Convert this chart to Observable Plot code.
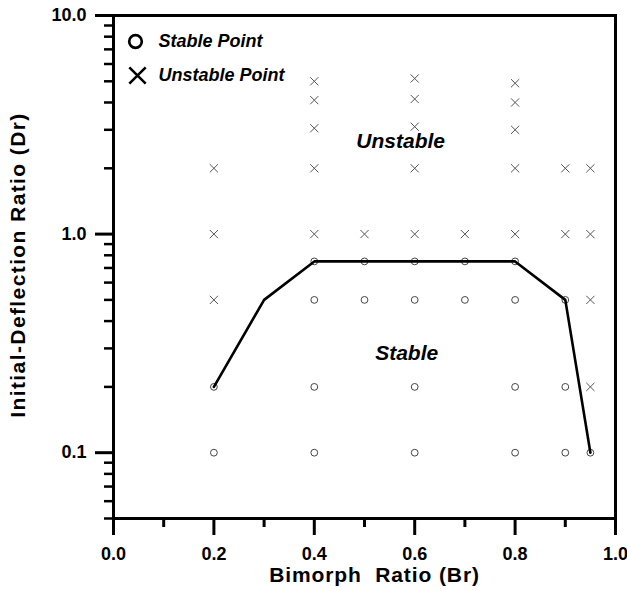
<!DOCTYPE html>
<html>
<head>
<meta charset="utf-8">
<script src="https://cdn.jsdelivr.net/npm/d3@7"></script>
<script src="https://cdn.jsdelivr.net/npm/@observablehq/plot@0.6"></script>
<style>
  html, body { margin: 0; padding: 0; background: #fff; }
  svg text { white-space: pre; }
</style>
</head>
<body>
<div id="chart"></div>
<script>
// Stable points (circles)
const stableBr = [0.2, 0.2, 0.4, 0.4, 0.4, 0.4, 0.5, 0.5, 0.6, 0.6, 0.6, 0.6, 0.7, 0.7, 0.8, 0.8, 0.8, 0.8, 0.9, 0.9, 0.9, 0.95];
const stableDr = [0.1, 0.2, 0.1, 0.2, 0.5, 0.75, 0.5, 0.75, 0.1, 0.2, 0.5, 0.75, 0.5, 0.75, 0.1, 0.2, 0.5, 0.75, 0.1, 0.2, 0.5, 0.1];
// Unstable points (crosses)
const unstableBr = [0.2, 0.2, 0.2, 0.4, 0.4, 0.4, 0.4, 0.4, 0.5, 0.6, 0.6, 0.6, 0.6, 0.6, 0.7, 0.8, 0.8, 0.8, 0.8, 0.8, 0.9, 0.9, 0.95, 0.95, 0.95, 0.95];
const unstableDr = [0.5, 1, 2, 1, 2, 3.05, 4.1, 5.0, 1, 1, 2, 3.1, 4.15, 5.15, 1, 1, 2, 3.0, 4.0, 4.9, 1, 2, 0.2, 0.5, 1, 2];
// Stability boundary
const boundaryBr = [0.2, 0.3, 0.4, 0.8, 0.9, 0.95];
const boundaryDr = [0.2, 0.5, 0.75, 0.75, 0.5, 0.1];
// Region labels
const regionText = ["Unstable", "Stable"];
const regionBr = [0.572, 0.584];
const regionDr = [2.66, 0.286];
// Legend
const legendLabels = ["Stable Point", "Unstable Point"];
const legendSymbols = ["circle", "times"];
// Ticks
const xMajor = [0, 0.2, 0.4, 0.6, 0.8, 1.0];
const xMinor = [0.1, 0.3, 0.5, 0.7, 0.9];
const yMajor = [0.1, 1, 10];
const yMajorLabels = ["0.1", "1.0", "10.0"];
const yMinor = [0.05, 0.06, 0.07, 0.08, 0.09, 0.2, 0.3, 0.4, 0.5, 0.6, 0.7, 0.8, 0.9, 2, 3, 4, 5, 6, 7, 8, 9];
const xTitle = "Bimorph  Ratio (Br)";
const yTitle = "Initial-Deflection Ratio (Dr)";

const stable = stableBr.map((x, i) => ({x, y: stableDr[i]}));
const unstable = unstableBr.map((x, i) => ({x, y: unstableDr[i]}));
const boundary = boundaryBr.map((x, i) => ({x, y: boundaryDr[i]}));
const regions = regionText.map((t, i) => ({t, x: regionBr[i], y: regionDr[i]}));

const font = "'Liberation Sans', Arial, sans-serif";

const chart = Plot.plot({
  width: 627,
  height: 591,
  marginLeft: 113,
  marginRight: 12,
  marginTop: 15,
  marginBottom: 73,
  style: {fontFamily: font, fontWeight: "bold", color: "black", background: "white"},
  x: {domain: [0, 1]},
  y: {type: "log", domain: [0.05, 10]},
  marks: [
    // minor ticks
    Plot.axisX(xMinor, {tickSize: 9, strokeWidth: 3, text: null, label: null}),
    Plot.axisY(yMinor, {tickSize: 9, strokeWidth: 2.5, text: null, label: null}),
    // major ticks
    Plot.axisX(xMajor, {tickSize: 17, strokeWidth: 3, tickPadding: 12, fontSize: 18, fontWeight: "bold",
      tickFormat: d3.format(".1f"), label: null}),
    Plot.axisY(yMajor, {tickSize: 18, strokeWidth: 3, tickPadding: 9, fontSize: 18, fontWeight: "bold",
      tickFormat: d => yMajorLabels[yMajor.indexOf(d)], label: null}),
    Plot.frame({stroke: "black", strokeWidth: 3}),
    // data
    Plot.dot(stable, {x: "x", y: "y", symbol: "circle", r: 3.4, stroke: "#444", strokeWidth: 1, fill: "none"}),
    Plot.dot(unstable, {x: "x", y: "y", symbol: "times", r: 3.8, stroke: "#555", strokeWidth: 1}),
    Plot.line(boundary, {x: "x", y: "y", stroke: "black", strokeWidth: 2.6}),
    // region labels
    Plot.text(regions, {x: "x", y: "y", text: "t", fontSize: 21, fontWeight: "bold", fontStyle: "italic", fill: "black"}),
    // legend
    Plot.dot([legendSymbols[0]], {frameAnchor: "top-left", dx: 22, dy: 26, symbol: "circle", r: 6.3, stroke: "black", strokeWidth: 2.7, fill: "none"}),
    Plot.dot([legendSymbols[1]], {frameAnchor: "top-left", dx: 24, dy: 60, symbol: "times", r: 7.5, stroke: "black", strokeWidth: 2.6}),
    Plot.text([legendLabels[0]], {frameAnchor: "top-left", dx: 45, dy: 26, textAnchor: "start", lineAnchor: "middle", fontSize: 18, fontWeight: "bold", fontStyle: "italic", fill: "black"}),
    Plot.text([legendLabels[1]], {frameAnchor: "top-left", dx: 45, dy: 60, textAnchor: "start", lineAnchor: "middle", fontSize: 18, fontWeight: "bold", fontStyle: "italic", fill: "black"}),
    // axis titles
    Plot.text([xTitle], {frameAnchor: "bottom", textAnchor: "middle", dx: 10, dy: 57, lineAnchor: "middle", fontSize: 21, fontWeight: "bold", fill: "black"}),
    Plot.text([yTitle], {frameAnchor: "left", textAnchor: "middle", dx: -95, dy: -2, rotate: -90, lineAnchor: "middle", fontSize: 21, fontWeight: "bold", fill: "black"})
  ]
});
// letter spacing of the axis titles, as in the reference
chart.querySelectorAll("text").forEach(t => {
  if (t.textContent === xTitle) t.style.letterSpacing = "0.9px";
  if (t.textContent === yTitle) t.style.letterSpacing = "1.4px";
});
document.getElementById("chart").appendChild(chart);
</script>
</body>
</html>
